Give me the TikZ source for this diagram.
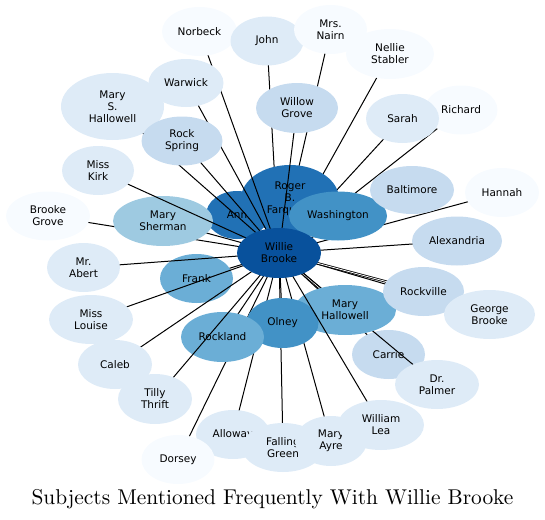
\documentclass[tikz,border=0pt]{standalone}
\usepackage{fontspec}
\newfontfamily\subjfont{DejaVu Sans}
\newfontfamily\titlefont{lmroman10-regular.otf}
\usetikzlibrary{shapes.geometric}
\definecolor{blues0}{RGB}{247,251,255}
\definecolor{blues1}{RGB}{222,235,247}
\definecolor{blues2}{RGB}{198,219,239}
\definecolor{blues3}{RGB}{158,202,225}
\definecolor{blues4}{RGB}{107,174,214}
\definecolor{blues5}{RGB}{66,146,198}
\definecolor{blues6}{RGB}{33,113,181}
\definecolor{blues7}{RGB}{8,81,156}
\tikzset{
  subj/.style={ellipse, inner sep=0pt, align=center, text=black,
               font=\fontsize{10.5}{12}\subjfont},
  link/.style={black, line width=1pt},
  multilink/.style={black, line width=0.8pt, double, double distance=0.8pt}
}

\begin{document}
\begin{tikzpicture}[x=1pt, y=-1pt]
\useasboundingbox (0,0) rectangle (545,519);

% ── Node centres ─────────────────────────────────────────────────────────────
\foreach \id/\x/\y in {wb/279/253, ann/237/215, roger/290/199, washington/338/216,
                       marysherman/163/221, norbeck/199.5/31.5, john/267/41,
                       mrsnairn/330.5/29.5, nellie/390/54, willowgrove/297/108,
                       msh/112.5/106.5, warwick/186/83, rockspring/182/141,
                       misskirk/98/170.5, brookegrove/48/216, richard/461/110,
                       sarah/402.5/118.5, baltimore/412/190, hannah/502/192.5,
                       alexandria/457/241, frank/196.5/278.5, mrabert/83.5/267.5,
                       misslouise/91/319.5, caleb/115/364.5, tilly/155/399,
                       rockland/222.5/337, olney/282.5/323, mh/345/310,
                       carrie/388.5/354.5, drpalmer/437/384.5, rockville/423.5/291.5,
                       georgebrooke/489.5/314.5, alloway/233/434.5, dorsey/178/459.5,
                       falling/283/447.5, maryayre/331/441, williamlea/381/425} {
  \coordinate (p-\id) at (\x,\y);
}

% ── Links under the inner ring ───────────────────────────────────────────────
\foreach \id in {john, mrsnairn, nellie, ann, roger, brookegrove, marysherman,
                 sarah, richard, hannah, baltimore, washington} {
  \draw[link] (p-wb) -- (p-\id);
}
\foreach \id/\rx/\ry/\col/\txt in {ann/31/24/blues6/Ann,
                                   roger/49/34/blues6/{Roger\\B.\\Farquhar},
                                   washington/49/24.5/blues5/Washington,
                                   marysherman/50/25/blues3/{Mary\\Sherman}} {
  \node[subj, fill=\col, minimum width=2*\rx, minimum height=2*\ry] (\id) at (p-\id) {\txt};
}

% ── Upper left links ─────────────────────────────────────────────────────────
\foreach \id in {misskirk, msh, norbeck, warwick, willowgrove} {
  \draw[link] (p-wb) -- (p-\id);
}
\foreach \id/\rx/\ry/\col/\txt in {norbeck/37.5/24.5/blues0/Norbeck,
                                   john/36.5/24.5/blues1/John,
                                   mrsnairn/36.5/24.5/blues0/{Mrs.\\Nairn},
                                   nellie/44/25/blues0/{Nellie\\Stabler},
                                   willowgrove/41/25/blues2/{Willow\\Grove},
                                   msh/51.5/33.5/blues1/{Mary\\S.\\Hallowell},
                                   warwick/37.5/24/blues1/Warwick} {
  \node[subj, fill=\col, minimum width=2*\rx, minimum height=2*\ry] (\id) at (p-\id) {\txt};
}
\draw[link] (p-wb) -- (p-rockspring);
\foreach \id/\rx/\ry/\col/\txt in {rockspring/40.5/24.5/blues2/{Rock\\Spring},
                                   misskirk/36/24.5/blues1/{Miss\\Kirk},
                                   brookegrove/42/24.5/blues0/{Brooke\\Grove},
                                   richard/36.5/24.5/blues0/Richard,
                                   sarah/36.5/24.5/blues1/Sarah,
                                   baltimore/42/24/blues2/Baltimore,
                                   hannah/37/24.5/blues0/Hannah} {
  \node[subj, fill=\col, minimum width=2*\rx, minimum height=2*\ry] (\id) at (p-\id) {\txt};
}

% ── Right and lower links ────────────────────────────────────────────────────
\foreach \id in {alexandria, frank} {
  \draw[link] (p-wb) -- (p-\id);
}
\foreach \id/\rx/\ry/\col/\txt in {alexandria/45/24.5/blues2/Alexandria,
                                   frank/36.5/24.5/blues4/Frank} {
  \node[subj, fill=\col, minimum width=2*\rx, minimum height=2*\ry] (\id) at (p-\id) {\txt};
}
\foreach \id in {mrabert, misslouise} {
  \draw[link] (p-wb) -- (p-\id);
}
\node[subj, fill=blues1, minimum width=73, minimum height=49] (mrabert) at (p-mrabert) {Mr.\\Abert};
\foreach \id in {dorsey, alloway, falling, maryayre, olney, rockland, carrie} {
  \draw[link] (p-wb) -- (p-\id);
}
\draw[multilink] (p-wb) -- (p-mh);
\node[subj, fill=blues2, minimum width=73, minimum height=49] (carrie) at (p-carrie) {Carrie};
\draw[link] (p-wb) -- (p-drpalmer);
\foreach \id/\rx/\ry/\col/\txt in {mh/51/25/blues4/{Mary\\Hallowell},
                                   olney/36/25/blues5/Olney,
                                   rockland/41.5/25/blues4/Rockland} {
  \node[subj, fill=\col, minimum width=2*\rx, minimum height=2*\ry] (\id) at (p-\id) {\txt};
}
\foreach \id in {caleb, tilly, williamlea, georgebrooke} {
  \draw[link] (p-wb) -- (p-\id);
}
\draw[multilink] (p-wb) -- (p-rockville);

% ── Outer nodes ──────────────────────────────────────────────────────────────
\foreach \id/\rx/\ry/\col/\txt in {misslouise/42/24.5/blues1/{Miss\\Louise},
                                   caleb/37/24.5/blues1/Caleb,
                                   tilly/37/25/blues1/{Tilly\\Thrift},
                                   alloway/37/24.5/blues1/Alloway,
                                   dorsey/36.5/24.5/blues0/Dorsey,
                                   falling/41/24.5/blues1/{Falling\\Green},
                                   maryayre/36/25/blues1/{Mary\\Ayre},
                                   williamlea/43/25/blues1/{William\\Lea},
                                   drpalmer/42/24.5/blues1/{Dr.\\Palmer},
                                   rockville/40.5/24.5/blues2/Rockville,
                                   georgebrooke/45.5/24.5/blues1/{George\\Brooke}} {
  \node[subj, fill=\col, minimum width=2*\rx, minimum height=2*\ry] (\id) at (p-\id) {\txt};
}

% Centre node
\node[subj, fill=blues7, minimum width=84, minimum height=50] (wb) at (p-wb) {Willie\\Brooke};

% Title
\node[anchor=base, font=\fontsize{21.4}{24}\titlefont] (title) at (272.5,504)
      {Subjects Mentioned Frequently With Willie Brooke};

\end{tikzpicture}
\end{document}
